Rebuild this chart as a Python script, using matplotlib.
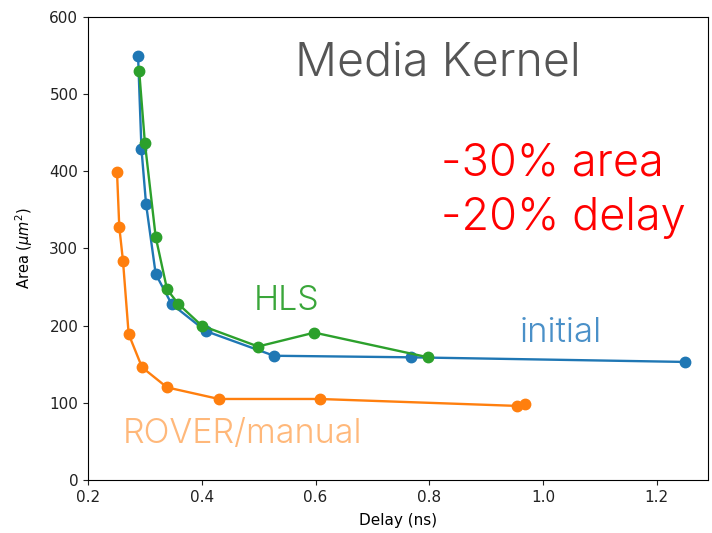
import matplotlib
matplotlib.use("Agg")
import matplotlib.pyplot as plt

# initial design points
init_delay = [0.288, 0.294, 0.302, 0.319, 0.347, 0.407, 0.527, 0.767, 1.25]
init_area = [550, 429, 358, 267, 228, 193, 161, 159, 153]

# ROVER / manual
rover_delay = [0.251, 0.255, 0.2615, 0.2715, 0.295, 0.339, 0.430, 0.607, 0.955, 0.968]
rover_area = [399, 328, 284, 189, 146, 120, 105, 105, 96, 99]

# HLS
hls_delay = [0.290, 0.300, 0.319, 0.339, 0.359, 0.400, 0.499, 0.598, 0.798]
hls_area = [530, 437, 315, 247, 228, 200, 173, 191, 159]

fig = plt.figure(figsize=(7.12, 5.33), dpi=100)
ax = fig.add_axes([88 / 712, 53 / 533, 620 / 712, 463 / 533])

ax.plot(init_delay, init_area, '-o', color='#1f77b4', lw=1.7, ms=7.5)
ax.plot(rover_delay, rover_area, '-o', color='#ff7f0e', lw=1.7, ms=7.5)
ax.plot(hls_delay, hls_area, '-o', color='#2ca02c', lw=1.7, ms=7.5)

ax.set_xlim(0.2, 1.29)
ax.set_ylim(0, 600)
ax.set_xticks([0.2, 0.4, 0.6, 0.8, 1.0, 1.2])
ax.tick_params(labelsize=11, colors='#222222')
ax.set_xlabel("Delay (ns)", fontsize=11, labelpad=6)
ax.set_ylabel(r"Area ($\mu m^2$)", fontsize=10.5, labelpad=10)

big = dict(family='Inter', fontweight=300, transform=ax.transAxes)
ax.text(0.565, 0.897, "Media Kernel", color='#555555', fontsize=33.5,
        ha='center', va='center', **big)
ax.text(0.57, 0.683, "-30% area", color='#ff0000', fontsize=32.5,
        ha='left', va='center', **big)
ax.text(0.57, 0.565, "-20% delay", color='#ff0000', fontsize=32.5,
        ha='left', va='center', **big)
ax.text(0.321, 0.387, "HLS", color='#3aa63a', fontsize=24.5,
        ha='center', va='center', **big)
ax.text(0.763, 0.318, "initial", color='#4a90c8', fontsize=25,
        ha='center', va='center', **big)
ax.text(0.25, 0.10, "ROVER/manual", color='#ffb87a', fontsize=24.5,
        ha='center', va='center', **big)

plt.savefig("out.png", dpi=100)
